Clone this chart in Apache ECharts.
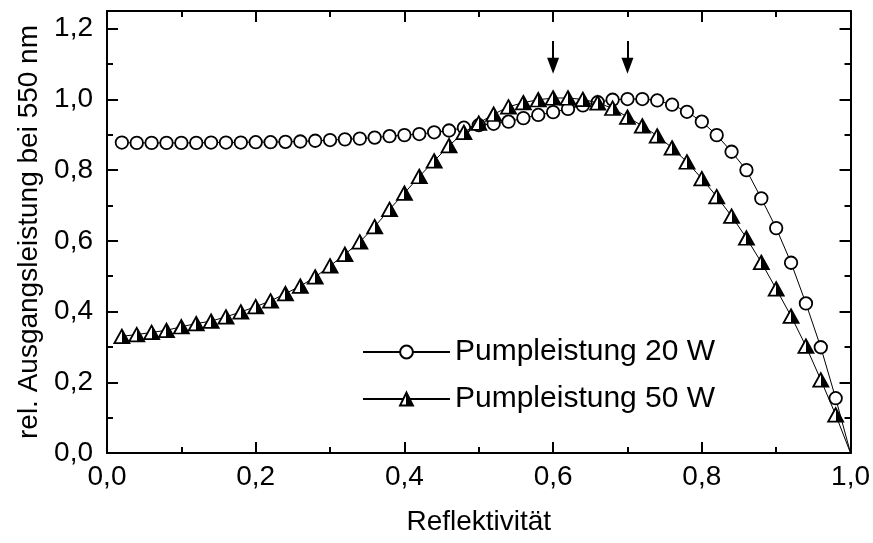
<!DOCTYPE html>
<html><head><meta charset="utf-8">
<script src="https://cdn.jsdelivr.net/npm/echarts@6/dist/echarts.min.js"></script>
<style>html,body{margin:0;padding:0;background:#fff}#c{width:873px;height:543px}</style>
</head><body><div id="c"></div>
<script>
const reflectivity = [0.02,0.04,0.06,0.08,0.10,0.12,0.14,0.16,0.18,0.20,0.22,0.24,0.26,0.28,0.30,0.32,0.34,0.36,0.38,0.40,0.42,0.44,0.46,0.48,0.50,0.52,0.54,0.56,0.58,0.60,0.62,0.64,0.66,0.68,0.70,0.72,0.74,0.76,0.78,0.80,0.82,0.84,0.86,0.88,0.90,0.92,0.94,0.96,0.98,1.00];
const pump20 = [0.878,0.877,0.877,0.877,0.877,0.877,0.878,0.878,0.878,0.879,0.879,0.880,0.881,0.883,0.885,0.887,0.889,0.892,0.896,0.899,0.902,0.907,0.912,0.920,0.927,0.931,0.937,0.947,0.956,0.964,0.973,0.983,0.992,0.999,1.001,1.001,0.997,0.985,0.965,0.937,0.899,0.852,0.800,0.720,0.636,0.538,0.423,0.299,0.155,0.000];
const pump50 = [0.330,0.335,0.341,0.347,0.357,0.366,0.373,0.385,0.399,0.414,0.430,0.451,0.472,0.498,0.529,0.562,0.597,0.640,0.689,0.735,0.782,0.826,0.869,0.907,0.933,0.958,0.979,0.991,0.999,1.004,1.004,1.000,0.990,0.975,0.950,0.925,0.897,0.863,0.823,0.776,0.725,0.670,0.608,0.539,0.464,0.387,0.302,0.207,0.108,0.000];
const seriesNames = ['Pumpleistung 20 W', 'Pumpleistung 50 W'];
const xAxisTitle = 'Reflektivität';
const yAxisTitle = 'rel. Ausgangsleistung bei 550 nm';
const arrowX = [0.6, 0.7];
const arrowFrom = 1.165;
const arrowTo = 1.095;

const FONT = '"Liberation Sans", Arial, sans-serif';
const fmt = v => (v > 1.21 ? '' : v.toFixed(1).replace('.', ','));

function pts(ys) {
  return reflectivity.map((x, i) => {
    const item = { value: [x, ys[i]] };
    if (ys[i] === 0) item.symbol = 'none';
    return item;
  });
}

const halfFill = {
  type: 'linear', x: 0, y: 0, x2: 1, y2: 0,
  colorStops: [
    { offset: 0, color: '#fff' }, { offset: 0.5, color: '#fff' },
    { offset: 0.5, color: '#000' }, { offset: 1, color: '#000' }
  ]
};

const tickStyle = { color: '#000', width: 2 };
function xAx(pos, labels) {
  return {
    type: 'value', position: pos, min: 0, max: 1, interval: 0.2,
    axisLine: { onZero: false, lineStyle: tickStyle },
    axisTick: { inside: true, length: 11, lineStyle: tickStyle },
    minorTick: { show: true, splitNumber: 2, length: 6, lineStyle: tickStyle },
    splitLine: { show: false }, minorSplitLine: { show: false },
    axisLabel: { show: labels, formatter: fmt, fontSize: 28, color: '#000', fontFamily: FONT, margin: 10 },
    name: labels ? xAxisTitle : '', nameLocation: 'middle', nameGap: 55,
    nameTextStyle: { fontSize: 28, color: '#000', fontFamily: FONT }
  };
}
function yAx(pos, labels, minor) {
  return {
    type: 'value', position: pos, min: 0, max: 1.25, interval: minor ? 0.1 : 0.2,
    axisLine: { show: !minor, onZero: false, lineStyle: tickStyle },
    axisTick: { inside: true, length: minor ? 6 : 11, lineStyle: tickStyle },
    splitLine: { show: false },
    axisLabel: { show: labels, formatter: fmt, fontSize: 28, color: '#000', fontFamily: FONT, margin: 14 },
    name: labels ? yAxisTitle : '', nameLocation: 'middle', nameGap: 64,
    nameTextStyle: { fontSize: 28, color: '#000', fontFamily: FONT }
  };
}

const chart = echarts.init(document.getElementById('c'), null, { renderer: 'canvas' });
chart.setOption({
  animation: false,
  backgroundColor: '#fff',
  grid: { left: 107, right: 22, top: 11, bottom: 90, containLabel: false },
  xAxis: [xAx('bottom', true), xAx('top', false)],
  yAxis: [yAx('left', true, false), yAx('right', false, false), yAx('left', false, true), yAx('right', false, true)],
  legend: {
    orient: 'vertical', left: 362, top: 337, padding: 0, itemWidth: 87, itemHeight: 16, itemGap: 17,
    textStyle: { fontSize: 30, color: '#000', fontFamily: FONT, lineHeight: 30 },
    data: seriesNames
  },
  series: [
    {
      name: seriesNames[0], type: 'line', data: pts(pump20),
      symbol: 'circle', symbolSize: 12.5,
      itemStyle: { color: '#fff', borderColor: '#000', borderWidth: 1.8 },
      lineStyle: { color: '#000', width: 1 },
      emphasis: { disabled: true }, z: 3,
      markLine: {
        silent: true, symbol: ['none', 'triangle'], symbolSize: [12, 16],
        lineStyle: { color: '#000', width: 2, type: 'solid' },
        label: { show: false }, emphasis: { disabled: true },
        data: arrowX.map(x => [{ coord: [x, arrowFrom] }, { coord: [x, arrowTo] }])
      }
    },
    {
      name: seriesNames[1], type: 'line', data: pts(pump50),
      symbol: 'triangle', symbolSize: [15, 13.5],
      itemStyle: { color: halfFill, borderColor: '#000', borderWidth: 1.8 },
      lineStyle: { color: '#000', width: 1 },
      emphasis: { disabled: true }, z: 4
    }
  ]
});
</script></body></html>
